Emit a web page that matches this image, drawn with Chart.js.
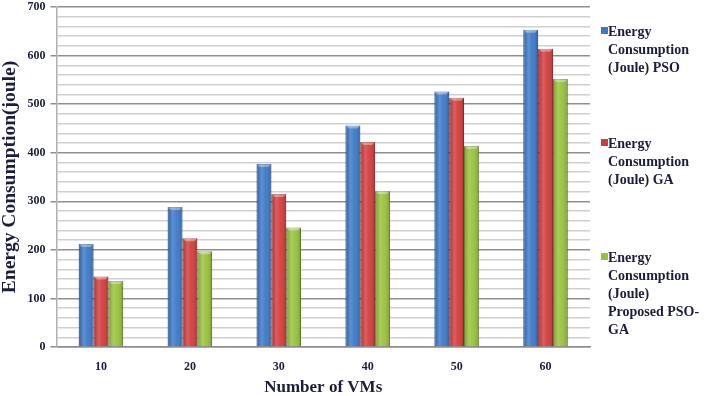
<!DOCTYPE html>
<html>
<head>
<meta charset="utf-8">
<script src="https://cdn.jsdelivr.net/npm/chart.js@4"></script>
<style>
  body { margin: 0; background: #fff; }
  #wrap { position: relative; width: 708px; height: 396px; overflow: hidden; }
  #myChart { position: absolute; left: 0; top: -4px; }
  #legend { position: absolute; left: 601px; top: 0; width: 107px; font: bold 14px "Liberation Serif", serif; color: #1c1c3c; }
  .item { position: absolute; left: 0; line-height: 18px; padding-left: 7px; }
  .box { position: absolute; left: 0; top: 4px; width: 7px; height: 7px; }
</style>
</head>
<body>
<div id="wrap">
  <canvas id="myChart" width="708" height="400"></canvas>
  <div id="legend"></div>
</div>
<script>
// data
const vms = ["10", "20", "30", "40", "50", "60"];
const psoEnergy = [212, 288, 377, 456, 526, 653];
const gaEnergy = [145, 224, 315, 422, 513, 614];
const psoGaEnergy = [136, 197, 246, 321, 414, 552];
const seriesNames = [
  ["Energy", "Consumption", "(Joule) PSO"],
  ["Energy", "Consumption", "(Joule) GA"],
  ["Energy", "Consumption", "(Joule)", "Proposed PSO-", "GA"]
];
const legendTops = [23, 135, 249];

const COLORS = {
  blue: '#3a78c8',
  red: '#d33b3b',
  green: '#97c23a'
};
const EDGE = {
  blue: '#2a5a9a',
  red: '#a02828',
  green: '#6f9228'
};
let colorKeys = Object.keys(COLORS);

const ink = '#1c1c3c';
const serif = '"Liberation Serif", "Times New Roman", serif';

// shade each bar so it looks like the rounded office-style bars
const barShade = {
  id: 'barShade',
  afterDatasetsDraw(chart) {
    const ctx = chart.ctx;
    chart.data.datasets.forEach((ds, di) => {
      const meta = chart.getDatasetMeta(di);
      meta.data.forEach(bar => {
        const left = bar.x - bar.width / 2;
        const top = bar.y;
        const h = bar.base - bar.y;
        let g = ctx.createLinearGradient(left, 0, left + bar.width, 0);
        g.addColorStop(0, 'rgba(0,0,0,0.18)');
        g.addColorStop(0.35, 'rgba(255,255,255,0.18)');
        g.addColorStop(0.6, 'rgba(255,255,255,0.05)');
        g.addColorStop(1, 'rgba(0,0,0,0.22)');
        ctx.save();
        ctx.fillStyle = g;
        ctx.fillRect(left, top, bar.width, h);
        // little top cap
        ctx.fillStyle = 'rgba(255,255,255,0.35)';
        ctx.beginPath();
        ctx.moveTo(left, top);
        ctx.lineTo(left + bar.width, top);
        ctx.lineTo(left + bar.width - 3, top + 3);
        ctx.lineTo(left + 3, top + 3);
        ctx.closePath();
        ctx.fill();
        ctx.restore();
      });
    });
  }
};

const data = {
  labels: vms,
  datasets: [psoEnergy, gaEnergy, psoGaEnergy].map((vals, i) => ({
    label: seriesNames[i].join(' '),
    data: vals,
    backgroundColor: COLORS[colorKeys[i]],
    borderColor: EDGE[colorKeys[i]],
    borderWidth: 1,
    barPercentage: 1,
    categoryPercentage: 0.5
  }))
};

const config = {
  type: 'bar',
  data: data,
  plugins: [barShade],
  options: {
    responsive: false,
    animation: false,
    layout: { padding: { left: 0, right: 118, top: 0, bottom: 0 } },
    plugins: {
      legend: { display: false },
      tooltip: { enabled: false }
    },
    scales: {
      x: {
        grid: { display: false, drawTicks: false },
        border: { color: '#8c8c8c', width: 1.5 },
        ticks: { color: ink, font: { family: serif, size: 12, weight: 'bold', lineHeight: 1 }, padding: 14 },
        title: { display: true, text: 'Number of VMs', color: ink, font: { family: serif, size: 17, weight: 'bold', lineHeight: 1 }, padding: { top: -8, bottom: 0 } }
      },
      y: {
        min: 0,
        max: 700,
        ticks: {
          stepSize: 20,
          autoSkip: false,
          color: ink,
          font: { family: serif, size: 12, weight: 'bold', lineHeight: 1 },
          padding: 5,
          callback: v => (v % 100 === 0 ? v : '')
        },
        grid: {
          color: c => (c.tick && c.tick.value % 100 === 0 ? '#8f8f8f' : '#cfcfcf'),
          lineWidth: 1.5,
          tickLength: 6,
          tickColor: c => (c.tick && c.tick.value % 100 === 0 ? '#8f8f8f' : 'rgba(0,0,0,0)')
        },
        border: { color: '#b0b0b0', width: 1.5 },
        title: { display: true, text: 'Energy Consumption(joule)', color: ink, font: { family: serif, size: 19.5, weight: 'bold', lineHeight: 1 }, padding: { top: 0, bottom: 3 } }
      }
    }
  }
};

function drawChart() {
  const myChart = new Chart(document.getElementById('myChart'), config);
}

function drawLegend() {
  const box = document.getElementById('legend');
  seriesNames.forEach((lines, i) => {
    const item = document.createElement('div');
    item.className = 'item';
    item.style.top = legendTops[i] + 'px';
    item.innerHTML = '<span class="box" style="background:' + COLORS[colorKeys[i]] + '"></span>' + lines.join('<br>');
    box.appendChild(item);
  });
}

drawChart();
drawLegend();
</script>
</body>
</html>
